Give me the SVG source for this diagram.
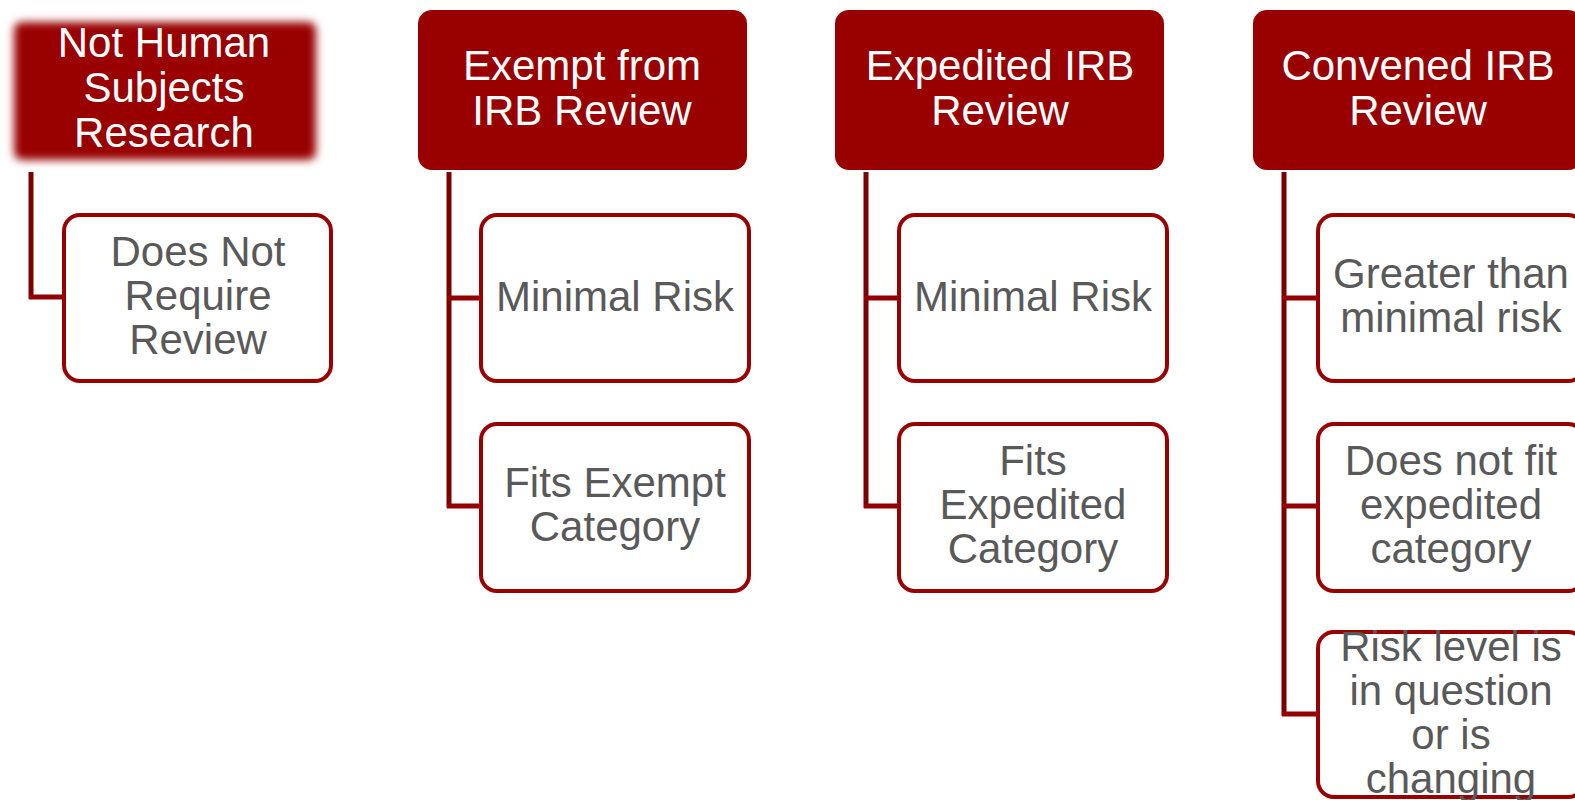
<svg xmlns="http://www.w3.org/2000/svg" width="1575" height="800" viewBox="0 0 1575 800">
  <defs>
    <filter id="soft" x="-10%" y="-20%" width="120%" height="140%">
      <feGaussianBlur stdDeviation="4"/>
    </filter>
  </defs>
  <style>
    .hdr { fill: #990000; }
    .child { fill: #ffffff; stroke: #990000; stroke-width: 4; }
    .ht { font-family: "Liberation Sans", Arial, sans-serif; font-size: 42px; fill: #ffffff; text-anchor: middle; }
    .ct { font-family: "Liberation Sans", Arial, sans-serif; font-size: 42px; fill: #595959; text-anchor: middle; }
    .vline { stroke: #7a0000; stroke-width: 5; fill: none; }
    .hline { stroke: #930000; stroke-width: 5; fill: none; }
  </style>
  <rect width="1575" height="800" fill="#ffffff"/>

  <g id="connectors">
    <line class="vline" x1="31" y1="172" x2="31" y2="299"/>
    <line class="hline" x1="29" y1="297" x2="64" y2="297"/>
    <line class="vline" x1="449" y1="172" x2="449" y2="508"/>
    <line class="hline" x1="447" y1="298" x2="481" y2="298"/>
    <line class="hline" x1="447" y1="506" x2="481" y2="506"/>
    <line class="vline" x1="866" y1="172" x2="866" y2="508"/>
    <line class="hline" x1="864" y1="298" x2="899" y2="298"/>
    <line class="hline" x1="864" y1="506" x2="899" y2="506"/>
    <line class="vline" x1="1284" y1="172" x2="1284" y2="716"/>
    <line class="hline" x1="1282" y1="298" x2="1318" y2="298"/>
    <line class="hline" x1="1282" y1="506" x2="1318" y2="506"/>
    <line class="hline" x1="1282" y1="714" x2="1318" y2="714"/>
  </g>

  <g id="not-human">
    <rect class="hdr" x="14" y="22" width="302" height="138" rx="8" filter="url(#soft)"/>
    <text class="ht" x="164" y="57">Not Human</text>
    <text class="ht" x="164" y="102">Subjects</text>
    <text class="ht" x="164" y="147">Research</text>
  </g>
  <g id="does-not-require">
    <rect class="child" x="64" y="215" width="267" height="166" rx="16"/>
    <text class="ct" x="198" y="266">Does Not</text>
    <text class="ct" x="198" y="310">Require</text>
    <text class="ct" x="198" y="354">Review</text>
  </g>

  <g id="exempt">
    <rect class="hdr" x="418" y="10" width="329" height="160" rx="14"/>
    <text class="ht" x="582" y="80">Exempt from</text>
    <text class="ht" x="582" y="125">IRB Review</text>
  </g>
  <g id="exempt-minimal">
    <rect class="child" x="481" y="215" width="268" height="166" rx="16"/>
    <text class="ct" x="615" y="311">Minimal Risk</text>
  </g>
  <g id="exempt-fits">
    <rect class="child" x="481" y="424" width="268" height="167" rx="16"/>
    <text class="ct" x="615" y="497">Fits Exempt</text>
    <text class="ct" x="615" y="541">Category</text>
  </g>

  <g id="expedited">
    <rect class="hdr" x="835" y="10" width="329" height="160" rx="14"/>
    <text class="ht" x="1000" y="80">Expedited IRB</text>
    <text class="ht" x="1000" y="125">Review</text>
  </g>
  <g id="expedited-minimal">
    <rect class="child" x="899" y="215" width="268" height="166" rx="16"/>
    <text class="ct" x="1033" y="311">Minimal Risk</text>
  </g>
  <g id="expedited-fits">
    <rect class="child" x="899" y="424" width="268" height="167" rx="16"/>
    <text class="ct" x="1033" y="475">Fits</text>
    <text class="ct" x="1033" y="519">Expedited</text>
    <text class="ct" x="1033" y="563">Category</text>
  </g>

  <g id="convened">
    <rect class="hdr" x="1253" y="10" width="329" height="160" rx="14"/>
    <text class="ht" x="1418" y="80">Convened IRB</text>
    <text class="ht" x="1418" y="125">Review</text>
  </g>
  <g id="convened-greater">
    <rect class="child" x="1318" y="215" width="266" height="166" rx="16"/>
    <text class="ct" x="1451" y="288">Greater than</text>
    <text class="ct" x="1451" y="332">minimal risk</text>
  </g>
  <g id="convened-notfit">
    <rect class="child" x="1318" y="424" width="266" height="167" rx="16"/>
    <text class="ct" x="1451" y="475">Does not fit</text>
    <text class="ct" x="1451" y="519">expedited</text>
    <text class="ct" x="1451" y="563">category</text>
  </g>
  <g id="convened-risk">
    <rect class="child" x="1318" y="632" width="266" height="165" rx="16"/>
    <text class="ct" x="1451" y="661">Risk level is</text>
    <text class="ct" x="1451" y="705">in question</text>
    <text class="ct" x="1451" y="749">or is</text>
    <text class="ct" x="1451" y="793">changing</text>
  </g>
</svg>
